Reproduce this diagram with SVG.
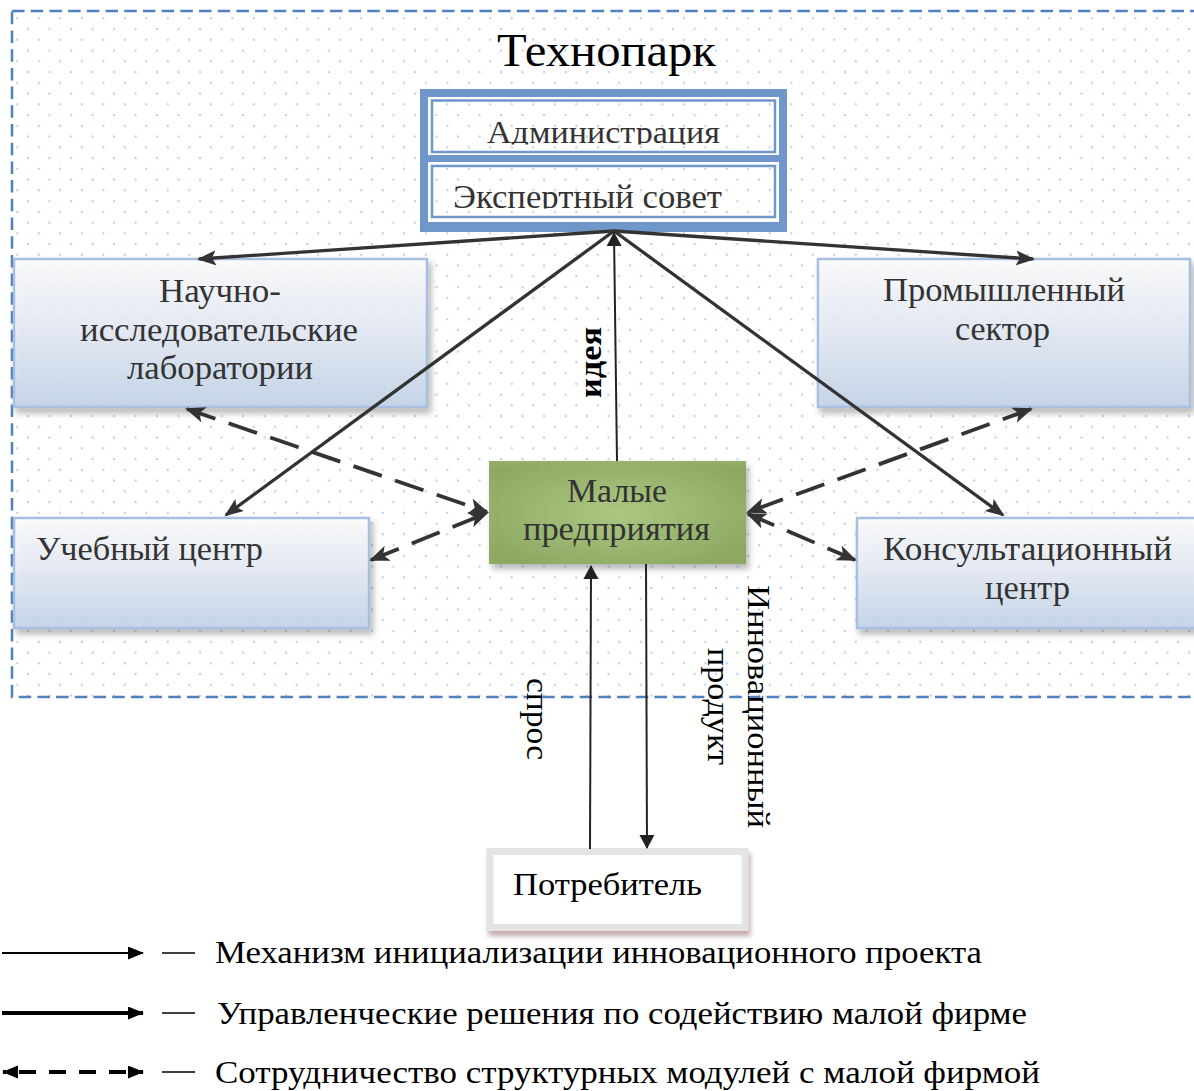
<svg xmlns="http://www.w3.org/2000/svg" width="1194" height="1091" viewBox="0 0 1194 1091">
<defs>
<style>
.t{font-family:"Liberation Serif","Times New Roman",serif;fill:#333;}
.k{font-family:"Liberation Serif","Times New Roman",serif;fill:#000;}
.thick{stroke:#333;stroke-width:3.3;fill:none;marker-end:url(#ahThick);}
.thin{stroke:#222;stroke-width:2;fill:none;marker-end:url(#ahThin);}
.dash{stroke:#333;stroke-width:3.8;fill:none;stroke-dasharray:30 14;marker-start:url(#ahDash);marker-end:url(#ahDash);}
.bluebox{fill:url(#gBlue);stroke:#a7bfe0;stroke-width:2.5;filter:url(#sh);}
</style>
<pattern id="dots" patternUnits="userSpaceOnUse" x="17.3" y="18.3" width="21.5" height="21.5">
<circle cx="0" cy="0" r="1.2" fill="#bfd1eb"/>
<circle cx="21.5" cy="0" r="1.2" fill="#bfd1eb"/>
<circle cx="0" cy="21.5" r="1.2" fill="#bfd1eb"/>
<circle cx="21.5" cy="21.5" r="1.2" fill="#bfd1eb"/>
<circle cx="10.75" cy="10.75" r="1.2" fill="#bfd1eb"/>
</pattern>
<linearGradient id="gBlue" x1="0" y1="0" x2="0" y2="1">
<stop offset="0" stop-color="#ffffff" stop-opacity="0.85"/>
<stop offset="0.45" stop-color="#e8eef8" stop-opacity="0.85"/>
<stop offset="1" stop-color="#c4d5eb" stop-opacity="0.85"/>
</linearGradient>
<radialGradient id="gGreen" cx="0.5" cy="0.5" r="0.6">
<stop offset="0" stop-color="#aac77e" stop-opacity="0.92"/>
<stop offset="1" stop-color="#89a65a" stop-opacity="0.92"/>
</radialGradient>
<filter id="sh" x="-10%" y="-10%" width="125%" height="130%">
<feDropShadow dx="3" dy="5" stdDeviation="3" flood-color="#555" flood-opacity="0.45"/>
</filter>
<filter id="shr" x="-10%" y="-10%" width="125%" height="140%">
<feDropShadow dx="2" dy="5" stdDeviation="2.5" flood-color="#8a5a5a" flood-opacity="0.5"/>
</filter>
<marker id="ahThick" markerUnits="userSpaceOnUse" markerWidth="20" markerHeight="16" refX="17" refY="7.5" orient="auto">
<path d="M0,0 L19,7.5 L0,15 L4,7.5 z" fill="#333"/>
</marker>
<marker id="ahThin" markerUnits="userSpaceOnUse" markerWidth="16" markerHeight="16" refX="13" refY="7.5" orient="auto">
<path d="M0,0 L14,7.5 L0,15 z" fill="#222"/>
</marker>
<marker id="ahDash" markerUnits="userSpaceOnUse" markerWidth="22" markerHeight="18" refX="18" refY="8" orient="auto-start-reverse">
<path d="M0,0 L20,8 L0,16 L5,8 z" fill="#333"/>
</marker>
<marker id="lgA" markerUnits="userSpaceOnUse" markerWidth="17" markerHeight="14" refX="15" refY="6.5" orient="auto-start-reverse">
<path d="M0,0 L16,6.5 L0,13 z" fill="#000"/>
</marker>
<clipPath id="cAdm"><rect x="433" y="102" width="342" height="42.5"/></clipPath>
<clipPath id="cExp"><rect x="433" y="168" width="342" height="40.5"/></clipPath>
</defs>

<rect x="0" y="0" width="1194" height="1091" fill="#ffffff"/>
<rect x="12" y="11" width="1182" height="686" fill="url(#dots)"/>
<rect x="12" y="11" width="1200" height="686" fill="none" stroke="#4f81bd" stroke-width="2.5" stroke-dasharray="12.5 6.2"/>

<g id="title">
<text class="k" x="497" y="66" font-size="46" textLength="219" lengthAdjust="spacingAndGlyphs">Технопарк</text>
</g>

<g id="admin">
<rect x="420" y="89" width="367" height="143" fill="#6f97ca"/>
<rect x="428" y="97" width="351" height="58" fill="#ffffff"/>
<rect x="432" y="100.5" width="343" height="51.5" fill="#ffffff" stroke="#6f97ca" stroke-width="2.5"/>
<rect x="428" y="162" width="351" height="60" fill="#ffffff"/>
<rect x="432" y="166" width="343" height="51" fill="#ffffff" stroke="#6f97ca" stroke-width="2.5"/>
<rect x="433" y="102" width="342" height="49" fill="url(#dots)"/>
<rect x="433" y="167.5" width="342" height="48" fill="url(#dots)"/>
<text class="t" x="487" y="143" font-size="32" textLength="233" lengthAdjust="spacingAndGlyphs" clip-path="url(#cAdm)">Администрация</text>
<text class="t" x="453" y="207.5" font-size="33" textLength="269" lengthAdjust="spacingAndGlyphs" clip-path="url(#cExp)">Экспертный совет</text>
</g>

<g id="nii">
<rect class="bluebox" x="14" y="259" width="413" height="148"/>
<text class="t" x="159" y="302" font-size="33" textLength="122" lengthAdjust="spacingAndGlyphs">Научно-</text>
<text class="t" x="80" y="341" font-size="33" textLength="278" lengthAdjust="spacingAndGlyphs">исследовательские</text>
<text class="t" x="127" y="379" font-size="33" textLength="186" lengthAdjust="spacingAndGlyphs">лаборатории</text>
</g>

<g id="prom">
<rect class="bluebox" x="818" y="259" width="372" height="148"/>
<text class="t" x="883" y="301" font-size="33" textLength="242" lengthAdjust="spacingAndGlyphs">Промышленный</text>
<text class="t" x="955" y="340" font-size="33" textLength="95" lengthAdjust="spacingAndGlyphs">сектор</text>
</g>

<g id="ucheb">
<rect class="bluebox" x="14" y="518" width="355" height="110"/>
<text class="t" x="36" y="560" font-size="33" textLength="227" lengthAdjust="spacingAndGlyphs">Учебный центр</text>
</g>

<g id="kons">
<rect class="bluebox" x="857" y="518" width="345" height="110"/>
<text class="t" x="883" y="560" font-size="33" textLength="289" lengthAdjust="spacingAndGlyphs">Консультационный</text>
<text class="t" x="985" y="599" font-size="33" textLength="85" lengthAdjust="spacingAndGlyphs">центр</text>
</g>

<g id="malye">
<rect x="489" y="461" width="257" height="103" fill="url(#gGreen)" filter="url(#sh)"/>
<text class="t" x="567" y="502" font-size="33" textLength="100" lengthAdjust="spacingAndGlyphs">Малые</text>
<text class="t" x="523" y="540" font-size="33" textLength="187" lengthAdjust="spacingAndGlyphs">предприятия</text>
</g>

<g id="potreb">
<rect x="490" y="851.5" width="255" height="76" fill="#ffffff" stroke="#e4e4e4" stroke-width="7" filter="url(#shr)"/>
<text class="k" x="513" y="895" font-size="32" textLength="189" lengthAdjust="spacingAndGlyphs">Потребитель</text>
</g>

<g id="connectors">
<path class="thick" d="M614,231 L199,259"/>
<path class="thick" d="M614,231 L1033,259"/>
<path class="thick" d="M614,231 L226,515"/>
<path class="thick" d="M614,231 L1003,515"/>
<path class="thin" d="M617,461 L614,233"/>
<path class="thin" d="M590,849 L591,566"/>
<path class="thin" d="M646,564 L647,848"/>
<path class="dash" d="M187,409 L487,512"/>
<path class="dash" d="M371,560 L487,513"/>
<path class="dash" d="M1031,409 L748,512"/>
<path class="dash" d="M855,560 L748,514"/>
</g>

<g id="labels">
<text class="k" font-size="32" font-weight="bold" transform="translate(601,398) rotate(-90)" textLength="71" lengthAdjust="spacingAndGlyphs">идея</text>
<text class="k" font-size="32" transform="translate(527,678) rotate(90)" textLength="82" lengthAdjust="spacingAndGlyphs">спрос</text>
<text class="k" font-size="32" transform="translate(748,585) rotate(90)" textLength="243" lengthAdjust="spacingAndGlyphs">Инновационный</text>
<text class="k" font-size="32" transform="translate(708,648) rotate(90)" textLength="117" lengthAdjust="spacingAndGlyphs">продукт</text>
</g>

<g id="legend">
<line x1="2" y1="953" x2="143" y2="953" stroke="#000" stroke-width="2.2" marker-end="url(#lgA)"/>
<line x1="162" y1="953" x2="195" y2="953" stroke="#000" stroke-width="1.5"/>
<text class="k" x="215" y="963" font-size="32" textLength="767" lengthAdjust="spacingAndGlyphs">Механизм инициализации инновационного проекта</text>
<line x1="2" y1="1013" x2="143" y2="1013" stroke="#000" stroke-width="4" marker-end="url(#lgA)"/>
<line x1="162" y1="1013" x2="195" y2="1013" stroke="#000" stroke-width="1.5"/>
<text class="k" x="217" y="1024" font-size="32" textLength="810" lengthAdjust="spacingAndGlyphs">Управленческие решения по содействию малой фирме</text>
<line x1="3" y1="1072" x2="143" y2="1072" stroke="#000" stroke-width="4" stroke-dasharray="17 13" stroke-dashoffset="-16" marker-start="url(#lgA)" marker-end="url(#lgA)"/>
<line x1="162" y1="1072" x2="195" y2="1072" stroke="#000" stroke-width="1.5"/>
<text class="k" x="215" y="1083" font-size="32" textLength="825" lengthAdjust="spacingAndGlyphs">Сотрудничество структурных модулей с малой фирмой</text>
</g>
</svg>
